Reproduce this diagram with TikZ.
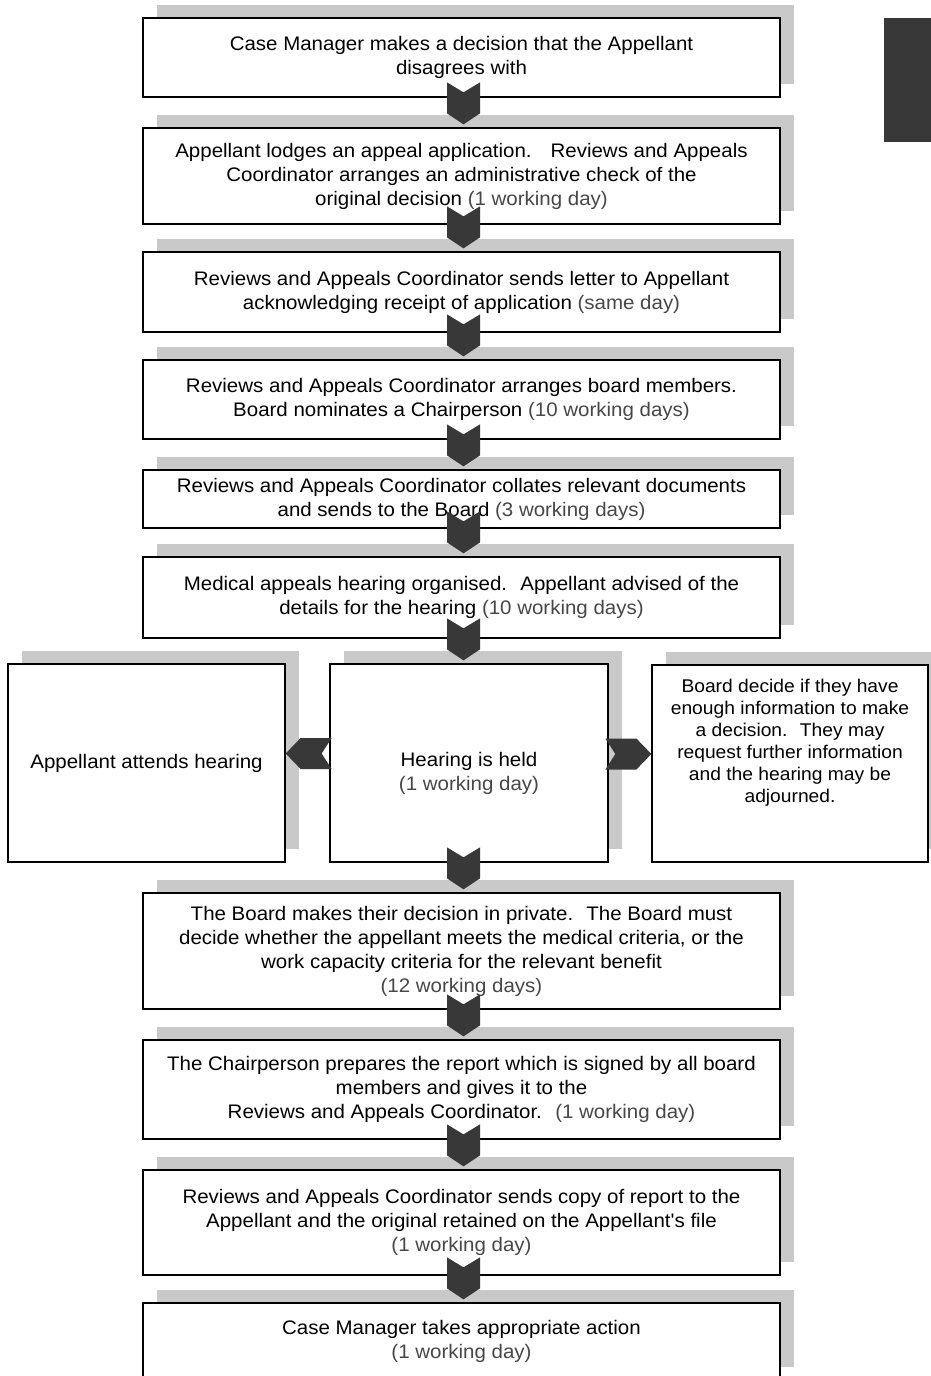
\documentclass[tikz,border=0pt]{standalone}
\usepackage{fontspec}
\setmainfont{Liberation Sans}
\newfontfamily\wideface[FakeStretch=1.045]{Liberation Sans}
\usetikzlibrary{shadows,calc}
\definecolor{shadowgray}{gray}{0.79}
\definecolor{chevgray}{gray}{0.22}
\definecolor{pgray}{gray}{0.28}
\newcommand\pg[1]{{\color{pgray}#1}}
\tikzset{
  box/.style={draw=black, line width=1.3pt, fill=white, align=center, inner sep=0pt,
    general shadow={fill=shadowgray, shadow xshift=14pt, shadow yshift=13pt},
    font=\wideface\fontsize{19.6}{24}\selectfont},
  mainbox/.style={box, minimum width=637pt},
  chev/.style={fill=chevgray, draw=none},
}
\newcommand\vchev[1]{%
  \fill[chev] ($(#1.north -| col)+(0,-3)$) ++(-16.5,-42) -- ++(16.5,10) -- ++(16.5,-10)
    -- ++(0,31) -- ++(-16.5,11) -- ++(-16.5,-11) -- cycle;}
\begin{document}
\begin{tikzpicture}[x=1pt,y=-1pt]
\useasboundingbox (0,0) rectangle (930,1376);
\coordinate (col) at (463.5,0);
% top-right dark tab
\fill[chevgray] (884,18) rectangle (940,142);

\node[mainbox, minimum height=79pt] (b1) at (461.5,57.5)
  {Case Manager makes a decision that the Appellant\\ disagrees with};
\node[mainbox, minimum height=96pt] (b2) at (461.5,176)
  {Appellant lodges an appeal application.~~ Reviews and Appeals\\ Coordinator arranges an administrative check of the\\ original decision \pg{(1 working day)}};
\node[mainbox, minimum height=80pt] (b3) at (461.5,292)
  {Reviews and Appeals Coordinator sends letter to Appellant\\ acknowledging receipt of application \pg{(same day)}};
\node[mainbox, minimum height=79pt] (b4) at (461.5,399.5)
  {Reviews and Appeals Coordinator arranges board members.\\ Board nominates a Chairperson \pg{(10 working days)}};
\node[mainbox, minimum height=58pt] (b5) at (461.5,499)
  {Reviews and Appeals Coordinator collates relevant documents\\ and sends to the Board \pg{(3 working days)}};
\node[mainbox, minimum height=81pt] (b6) at (461.5,597.5)
  {Medical appeals hearing organised.~ Appellant advised of the\\ details for the hearing \pg{(10 working days)}};

\node[box, minimum width=277pt, minimum height=198pt] (L) at (146.5,763)
  {Appellant attends hearing};
\node[box, minimum width=278pt, minimum height=198pt] (H) at (469,763)
  {\parbox[c][21pt][t]{265pt}{\centering Hearing is held\\ \pg{(1 working day)}}};
\node[box, minimum width=276pt, minimum height=197pt] (R) at (790,763.5)
  {\parbox[c][168pt][t]{266pt}{\centering\fontsize{18.4}{22}\selectfont
   Board decide if they have\\ enough information to make\\ a decision.~ They may\\ request further information\\ and the hearing may be\\ adjourned.}};

\node[mainbox, minimum height=116pt] (b7) at (461.5,951)
  {The Board makes their decision in private.~ The Board must\\ decide whether the appellant meets the medical criteria, or the\\ work capacity criteria for the relevant benefit\\ \pg{(12 working days)}};
\node[mainbox, minimum height=99pt] (b8) at (461.5,1089.5)
  {The Chairperson prepares the report which is signed by all board\\ members and gives it to the\\ Reviews and Appeals Coordinator.~ \pg{(1 working day)}};
\node[mainbox, minimum height=105pt] (b9) at (461.5,1222.5)
  {Reviews and Appeals Coordinator sends copy of report to the\\ Appellant and the original retained on the Appellant's file\\ \pg{(1 working day)}};
\node[mainbox, minimum height=77pt] (b10) at (461.5,1341.5)
  {Case Manager takes appropriate action\\ \pg{(1 working day)}};

% chevrons
\vchev{b2}
\vchev{b3}
\vchev{b4}
\vchev{b5}
\vchev{b6}
\vchev{H}
\vchev{b7}
\vchev{b8}
\vchev{b9}
\vchev{b10}
\fill[chev] ($(L.east)+(0,-9.5)$) -- ++(15,-15.5) -- ++(31,0) -- ++(-10,15.5)
  -- ++(10,15.5) -- ++(-31,0) -- cycle;
\fill[chev] ($(R.west)+(0,-9.5)$) -- ++(-15,-15.5) -- ++(-31,0) -- ++(10,15.5)
  -- ++(-10,15.5) -- ++(31,0) -- cycle;
\end{tikzpicture}
\end{document}
